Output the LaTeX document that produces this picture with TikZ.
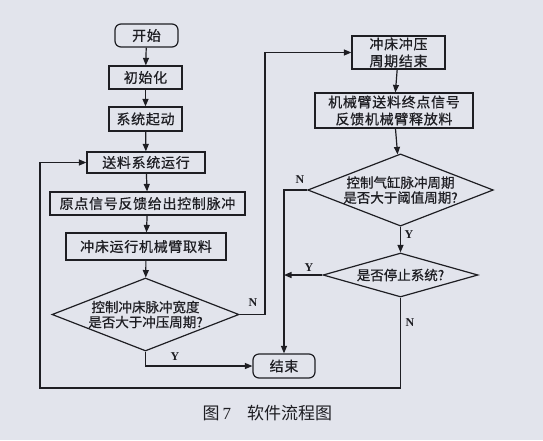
\documentclass[tikz,border=0pt]{standalone}
\usepackage{fontspec}
\setmainfont{Liberation Serif}
\newfontfamily\cjk[LetterSpace=5,FakeBold=0.6]{Noto Sans CJK SC}
\newfontfamily\cjkd[FakeBold=0.6]{Noto Sans CJK SC}
\newfontfamily\cjkc{Noto Sans CJK SC}
\usetikzlibrary{arrows.meta,shapes.geometric}
\definecolor{scanbg}{RGB}{226,228,236}
\definecolor{ink}{RGB}{30,30,35}
\tikzset{
  every node/.style={text=ink},
  base/.style={draw=ink, line width=1.2pt, align=center, inner sep=0pt, font=\fontsize{14}{17}\selectfont\cjk},
  term/.style={base, rounded corners=6pt},
  proc/.style={base},
  dec/.style={base, diamond, font=\fontsize{13.5}{15}\selectfont\cjkd},
  arr/.style={draw=ink, line width=1.2pt, -{Triangle[length=7.5pt,width=6pt]}},
  yn/.style={font=\fontsize{12}{12}\selectfont\bfseries, text=ink}
}
\begin{document}
\begin{tikzpicture}[x=1pt,y=-1pt]
\fill[scanbg] (0,0) rectangle (543,440);
\useasboundingbox (0,0) rectangle (543,440);
% left column
\node[term, minimum width=63pt, minimum height=23pt] (start) at (146.5,35.5) {开始};
\node[proc, minimum width=73pt, minimum height=23pt] (init) at (145.5,77.5) {初始化};
\node[proc, minimum width=73pt, minimum height=24pt] (sys) at (145.5,119) {系统起动};
\node[proc, minimum width=118pt, minimum height=21pt] (feed) at (146,162.5) {送料系统运行};
\node[proc, minimum width=195pt, minimum height=23pt] (orig) at (147.5,203.5) {原点信号反馈给出控制脉冲};
\node[proc, minimum width=160pt, minimum height=27pt] (take) at (146,246.5) {冲床运行机械臂取料};
\node[dec, shape aspect=2.56, minimum width=187pt, minimum height=73pt] (d1) at (145.5,314.5) {控制冲床脉冲宽度\\是否大于冲压周期?};
\node[term, minimum width=62pt, minimum height=24pt] (end) at (284,366) {结束};
% right column
\node[proc, minimum width=93pt, minimum height=33pt] (punch) at (398.5,52.5) {冲床冲压\\周期结束};
\node[proc, minimum width=158pt, minimum height=35pt] (arm) at (394,110.5) {机械臂送料终点信号\\反馈机械臂释放料};
\node[dec, shape aspect=2.57, minimum width=185pt, minimum height=72pt] (d2) at (400.5,190) {控制气缸脉冲周期\\是否大于阈值周期?};
\node[dec, shape aspect=3.5, minimum width=155pt, minimum height=44pt] (stop) at (400.5,275) {是否停止系统?};
% helper coordinates
\coordinate (c1) at (265,0);
\coordinate (c2) at (40,388);
% connectors
\draw[arr] (start) -- (init);
\draw[arr] (init) -- (sys);
\draw[arr] (sys) -- (feed);
\draw[arr] (feed) -- (orig);
\draw[arr] (orig) -- (take);
\draw[arr] (take) -- (d1);
\draw[arr] (d1.south) |- (end.west);
\draw[arr] (d1.east) -- (d1.east -| c1) |- (punch.west);
\draw[arr] (punch) -- (arm);
\draw[arr] (arm) -- (d2);
\draw[arr] (d2.west) -| (end.north);
\draw[arr] (d2.south) -- (stop.north);
\draw[arr] (stop.west) -- (stop.west -| end.north);
\draw[arr] (stop.south) |- (c2) |- (feed.west);
% labels
\node[yn] (ly1) at (175,357) {Y};
\node[yn] (ln1) at (253,303) {N};
\node[yn] (ln2) at (300,180) {N};
\node[yn] (ly2) at (409,235) {Y};
\node[yn] (ly3) at (309,268) {Y};
\node[yn] (ln3) at (410,323) {N};
% caption
\node[anchor=west, font=\fontsize{17}{17}\selectfont] (cap) at (199,413) {{\cjkc 图}\hspace{3pt}7\hspace{16pt}{\cjkc 软件流程图}};
\end{tikzpicture}
\end{document}
